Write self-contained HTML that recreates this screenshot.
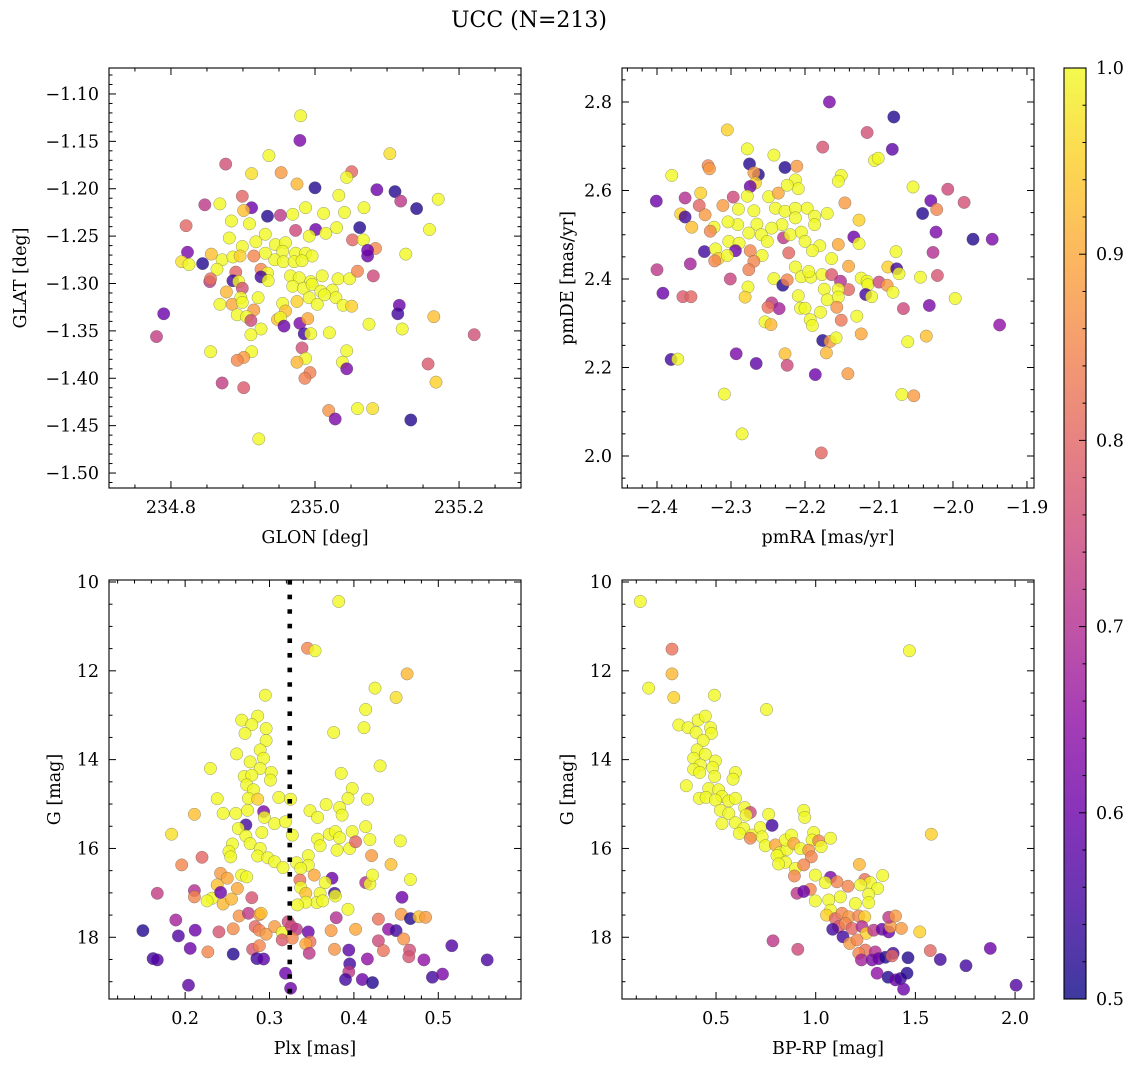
<!DOCTYPE html>
<html><head><meta charset="utf-8"><style>
html,body{margin:0;padding:0;background:#fff;}
svg text{font-family:"DejaVu Serif","Liberation Serif",serif;fill:#000;}
</style></head><body>
<svg id="fig" width="1136" height="1067" viewBox="0 0 1136 1067" xmlns="http://www.w3.org/2000/svg">
<defs>
<linearGradient id="plasma" x1="0" y1="1" x2="0" y2="0">
<stop offset="0" stop-color="#0d0887"/><stop offset="0.1" stop-color="#41049d"/><stop offset="0.2" stop-color="#6a00a8"/><stop offset="0.3" stop-color="#8f0da4"/><stop offset="0.4" stop-color="#b12a90"/><stop offset="0.5" stop-color="#cc4778"/><stop offset="0.6" stop-color="#e16462"/><stop offset="0.7" stop-color="#f2844b"/><stop offset="0.8" stop-color="#fca636"/><stop offset="0.9" stop-color="#fcce25"/><stop offset="1" stop-color="#f0f921"/>
</linearGradient>
</defs>
<text x="529" y="27" font-size="22" text-anchor="middle">UCC (N=213)</text>
</svg>
<script>
// ---- Panel 1: GLON vs GLAT ----
const p1x=[234.980,234.979,235.104,234.936,234.876,235.051,235.044,234.912,234.953,235.000,234.975,235.086,235.111,235.119,235.141,235.171,234.899,234.847,234.868,234.912,234.901,234.934,234.952,234.969,234.987,235.012,235.041,235.068,235.033,235.062,235.001,235.159,234.821,234.884,234.909,234.973,234.992,235.015,235.030,235.052,235.067,235.084,235.073,235.073,235.126,234.823,234.844,234.815,234.825,234.856,234.871,234.886,234.881,234.899,234.918,234.931,234.945,234.959,234.955,234.973,234.987,234.996,234.944,234.956,234.971,234.982,234.931,234.915,234.896,234.864,234.890,234.925,234.934,234.854,234.855,234.886,234.894,234.925,234.935,234.899,234.966,234.978,234.994,235.010,235.032,235.048,235.081,235.059,234.969,234.984,234.996,235.008,235.024,235.029,235.013,234.992,235.003,234.975,234.955,234.959,234.921,234.897,234.877,234.868,234.885,234.899,234.915,234.892,234.905,234.911,234.948,234.952,234.957,234.979,234.990,234.985,234.994,234.925,234.911,235.039,235.051,235.117,235.115,235.165,235.075,235.121,235.020,234.790,234.780,235.221,234.982,234.987,234.975,235.044,235.038,235.044,234.855,234.912,234.901,234.892,234.993,234.986,235.157,235.168,234.871,234.901,235.019,235.028,235.059,235.080,235.133,234.922];
const p1y=[-1.123,-1.149,-1.163,-1.165,-1.174,-1.182,-1.188,-1.184,-1.183,-1.199,-1.195,-1.201,-1.203,-1.213,-1.221,-1.211,-1.208,-1.217,-1.216,-1.220,-1.223,-1.229,-1.228,-1.227,-1.220,-1.226,-1.225,-1.220,-1.207,-1.241,-1.243,-1.243,-1.239,-1.234,-1.237,-1.244,-1.250,-1.247,-1.241,-1.254,-1.254,-1.263,-1.271,-1.265,-1.269,-1.267,-1.279,-1.277,-1.280,-1.269,-1.275,-1.272,-1.252,-1.261,-1.256,-1.248,-1.259,-1.257,-1.266,-1.268,-1.268,-1.271,-1.275,-1.277,-1.277,-1.276,-1.268,-1.271,-1.271,-1.285,-1.288,-1.285,-1.289,-1.298,-1.295,-1.297,-1.298,-1.293,-1.297,-1.305,-1.292,-1.294,-1.298,-1.292,-1.295,-1.295,-1.292,-1.287,-1.303,-1.305,-1.301,-1.308,-1.307,-1.315,-1.312,-1.315,-1.322,-1.319,-1.321,-1.329,-1.315,-1.315,-1.309,-1.322,-1.322,-1.320,-1.328,-1.333,-1.335,-1.339,-1.338,-1.336,-1.345,-1.342,-1.337,-1.353,-1.353,-1.348,-1.354,-1.323,-1.324,-1.323,-1.332,-1.335,-1.343,-1.348,-1.352,-1.332,-1.356,-1.354,-1.368,-1.379,-1.383,-1.371,-1.383,-1.390,-1.372,-1.372,-1.378,-1.381,-1.394,-1.400,-1.385,-1.404,-1.405,-1.410,-1.434,-1.443,-1.432,-1.432,-1.444,-1.464];
const p1c=[1,.62,.97,1,.76,.8,1,.97,.88,.52,.92,.6,.52,.72,.52,1,.8,.72,1,.6,.93,.52,.72,1,1,1,1,1,1,.52,.6,1,.8,1,1,.75,1,1,1,.8,1,.86,.6,.6,1,.62,.52,.97,1,.93,1,1,1,1,1,1,1,1,1,1,1,1,1,1,1,1,1,.85,.95,1,.8,.85,1,.72,.82,.55,1,.55,1,.76,1,1,1,1,1,1,.75,.85,1,1,1,1,1,1,1,1,1,.95,1,.93,1,1,.92,1,.9,1,.88,1,1,.75,.93,1,.6,.62,.9,.55,1,1,1,1,.95,.6,.55,.93,1,1,1,.6,.73,.76,.76,1,.92,1,1,.62,1,1,.88,.85,.84,.84,.78,.95,.73,.78,.87,.62,1,.97,.52,1];
const p1xTicks=["234.8","235.0","235.2"];
const p1yTicks=["−1.10","−1.15","−1.20","−1.25","−1.30","−1.35","−1.40","−1.45","−1.50"];

// ---- Panel 2: pmRA vs pmDE ----
const p2x=[-2.167,-2.080,-2.116,-2.176,-2.082,-2.305,-2.278,-2.242,-2.106,-2.101,-2.380,-2.331,-2.329,-2.275,-2.263,-2.227,-2.211,-2.269,-2.267,-2.274,-2.213,-2.209,-2.151,-2.155,-2.054,-2.007,-1.985,-2.030,-2.022,-2.041,-2.023,-1.973,-1.947,-2.027,-2.021,-2.401,-2.362,-2.341,-2.343,-2.335,-2.368,-2.362,-2.353,-2.311,-2.297,-2.278,-2.290,-2.269,-2.249,-2.236,-2.224,-2.240,-2.227,-2.213,-2.197,-2.187,-2.170,-2.213,-2.231,-2.245,-2.265,-2.291,-2.304,-2.323,-2.328,-2.303,-2.289,-2.276,-2.259,-2.251,-2.229,-2.220,-2.205,-2.200,-2.187,-2.180,-2.190,-2.222,-2.274,-2.258,-2.269,-2.276,-2.294,-2.336,-2.321,-2.317,-2.322,-2.305,-2.355,-2.400,-2.392,-2.365,-2.354,-2.301,-2.277,-2.281,-2.242,-2.230,-2.224,-2.213,-2.205,-2.192,-2.195,-2.177,-2.164,-2.164,-2.155,-2.146,-2.134,-2.127,-2.127,-2.141,-2.152,-2.141,-2.174,-2.155,-2.170,-2.155,-2.124,-2.116,-2.115,-2.100,-2.118,-2.110,-2.089,-2.088,-2.076,-2.073,-2.077,-2.081,-2.044,-1.997,-2.067,-2.032,-1.937,-2.209,-2.206,-2.200,-2.157,-2.151,-2.130,-2.179,-2.193,-2.190,-2.245,-2.235,-2.250,-2.254,-2.246,-2.124,-2.176,-2.166,-2.158,-2.171,-2.061,-2.036,-2.381,-2.372,-2.293,-2.266,-2.227,-2.224,-2.186,-2.142,-2.309,-2.069,-2.053,-2.285,-2.178];
const p2y=[2.800,2.766,2.731,2.698,2.693,2.737,2.694,2.680,2.668,2.673,2.634,2.656,2.649,2.660,2.636,2.652,2.655,2.640,2.617,2.609,2.624,2.604,2.634,2.621,2.608,2.603,2.573,2.577,2.557,2.548,2.506,2.490,2.490,2.460,2.408,2.576,2.583,2.594,2.566,2.545,2.547,2.540,2.517,2.566,2.585,2.587,2.558,2.554,2.586,2.594,2.612,2.560,2.553,2.560,2.560,2.542,2.548,2.538,2.523,2.515,2.524,2.523,2.529,2.517,2.508,2.485,2.481,2.504,2.500,2.485,2.493,2.500,2.506,2.485,2.523,2.475,2.464,2.459,2.464,2.453,2.440,2.421,2.464,2.462,2.468,2.446,2.441,2.453,2.434,2.421,2.368,2.360,2.360,2.400,2.382,2.359,2.401,2.386,2.398,2.427,2.405,2.404,2.417,2.410,2.410,2.446,2.478,2.572,2.495,2.480,2.533,2.429,2.395,2.376,2.377,2.377,2.353,2.359,2.402,2.395,2.387,2.393,2.365,2.360,2.386,2.427,2.423,2.412,2.462,2.370,2.404,2.356,2.333,2.340,2.296,2.362,2.334,2.334,2.336,2.307,2.316,2.325,2.308,2.295,2.346,2.333,2.336,2.303,2.297,2.276,2.261,2.259,2.267,2.233,2.258,2.271,2.218,2.219,2.231,2.209,2.231,2.205,2.184,2.186,2.140,2.139,2.136,2.050,2.007];
const p2c=[.62,.52,.76,.77,.58,.95,1,1,1,1,1,.85,.88,.52,.52,.52,.88,.88,.95,.6,1,1,1,1,1,.75,.76,.6,.85,.52,.62,.52,.62,.7,.77,.6,.7,.95,.8,.88,.95,.55,.93,.88,.75,1,1,1,1,.9,1,1,1,1,1,1,1,1,1,1,1,1,1,1,.85,1,1,1,1,1,.72,1,1,1,1,1,1,.8,.85,1,.85,.84,.6,.55,1,.95,.85,1,.68,.72,.6,.78,.8,.74,1,.95,1,.52,.85,1,1,1,1,1,.78,1,.9,.88,.6,1,.95,.9,.7,.8,1,1,1,1,1,1,1,.75,.55,1,.88,.95,.55,1,1,1,1,1,.75,.62,.65,1,1,1,.87,.83,1,1,1,1,.72,.68,.82,1,.92,.9,.52,.88,1,.92,1,.93,.55,1,.62,.58,.93,.75,.6,.88,1,1,.88,1,.8];
const p2xTicks=["−2.4","−2.3","−2.2","−2.1","−2.0","−1.9"];
const p2yTicks=["2.0","2.2","2.4","2.6","2.8"];

// ---- Panel 3: Plx vs G ----
const p3x=[.382,.345,.354,.463,.425,.450,.295,.414,.412,.376,.267,.286,.279,.271,.296,.296,.289,.293,.261,.277,.289,.302,.301,.431,.230,.385,.270,.279,.273,.281,.275,.286,.238,.311,.325,.398,.393,.416,.211,.245,.260,.274,.293,.294,.306,.319,.348,.357,.367,.383,.386,.272,.263,.291,.327,.272,.256,.277,.289,.252,.254,.286,.298,.306,.316,.184,.357,.360,.371,.378,.383,.380,.395,.398,.402,.414,.419,.455,.421,.444,.220,.196,.332,.346,.346,.337,.353,.374,.336,.242,.250,.267,.273,.238,.262,.232,.226,.245,.255,.279,.337,.343,.360,.366,.377,.378,.356,.363,.343,.333,.393,.414,.419,.422,.467,.457,.167,.211,.211,.242,.189,.150,.192,.212,.206,.240,.257,.264,.275,.288,.290,.283,.288,.296,.306,.315,.322,.326,.332,.315,.327,.346,.348,.343,.280,.288,.285,.293,.227,.257,.162,.167,.204,.319,.325,.347,.373,.379,.377,.394,.402,.395,.394,.390,.410,.422,.416,.429,.435,.429,.441,.450,.459,.466,.465,.456,.467,.477,.485,.483,.493,.505,.516,.558];
const p3y=[10.44,11.49,11.55,12.07,12.39,12.60,12.55,12.87,13.28,13.39,13.11,13.02,13.21,13.41,13.30,13.57,13.78,13.97,13.87,14.05,14.20,14.29,14.46,14.14,14.20,14.31,14.38,14.35,14.57,14.68,14.87,14.89,14.88,14.85,14.89,14.65,14.87,14.89,15.23,15.21,15.21,15.14,15.17,15.30,15.44,15.40,15.15,15.30,15.01,15.08,15.25,15.47,15.55,15.64,15.70,15.72,15.90,15.89,16.00,16.07,16.19,16.17,16.21,16.30,16.43,15.68,15.79,15.94,15.68,15.62,15.76,16.04,16.00,15.62,15.85,15.51,15.80,15.83,16.16,16.36,16.20,16.37,16.32,16.16,16.38,16.45,16.60,16.67,16.71,16.56,16.67,16.60,16.64,16.82,16.90,17.12,17.18,17.25,17.14,17.11,16.88,17.01,17.01,16.77,17.01,17.07,17.22,17.18,17.21,17.27,17.37,16.77,16.80,16.60,16.70,17.10,17.01,16.95,17.09,16.99,17.61,17.85,17.97,17.84,18.25,17.88,17.81,17.52,17.46,17.49,17.46,17.76,17.84,17.93,17.76,17.89,17.65,17.76,17.82,18.06,18.02,17.88,18.10,18.15,18.27,18.19,18.48,18.49,18.33,18.38,18.48,18.51,19.08,18.81,19.15,18.36,17.85,17.56,18.27,18.29,17.82,18.60,18.78,18.95,18.95,19.02,18.49,18.08,18.30,17.59,17.82,17.85,18.04,18.29,18.44,17.48,17.58,17.54,17.55,18.51,18.90,18.83,18.19,18.51];
const p3c=[1,.85,1,.92,1,.97,1,1,1,1,1,1,1,1,1,1,1,1,1,1,1,1,1,1,1,1,1,1,1,1,1,.95,1,1,1,1,1,1,.93,1,1,1,.62,1,1,1,1,1,1,1,1,.55,1,1,1,1,1,1,1,1,1,1,1,1,1,.97,1,1,1,1,1,1,1,1,.8,1,1,1,.88,.93,.8,.85,1,1,1,1,.9,.6,.82,.88,.9,1,1,.93,.9,1,1,.92,.92,.77,1,.93,1,1,.55,1,1,1,1,1,1,.7,1,1,1,.6,.73,.7,.85,.6,.68,.52,.57,.6,.6,.77,.86,.87,.72,.88,.93,.8,.85,.88,.88,1,.75,.75,.72,.78,.85,.6,.82,.9,.77,.85,.55,.58,.85,.52,.55,.57,.58,.6,.6,.72,.88,.7,.87,.58,.9,.55,.72,.55,.6,.52,.65,.75,.82,.82,.65,.55,.87,.76,.77,.88,.52,.93,.88,.65,.55,.62,.57,.56];
const p3xTicks=["0.2","0.3","0.4","0.5"];
const gTicks=["10","12","14","16","18"];
const plxLine=[0.324];

// ---- Panel 4: BP-RP vs G ----
const p4x=[.120,.279,.279,1.470,.162,.288,.492,.753,.313,.360,.410,.446,.472,.477,.400,.435,.405,.446,.497,.388,.421,.388,.418,.483,.493,.351,.597,.585,.463,.513,.530,.416,.450,.497,.564,.597,.522,.564,.644,.672,.651,.530,.597,.639,.617,.681,.722,.764,.781,.731,.672,.747,.798,.819,.856,.848,.878,.890,.940,.945,.990,.982,1.015,1.027,1.074,.923,.965,.978,.806,.848,.814,.898,.940,.893,.998,1.074,1.048,1.107,1.219,1.336,1.246,1.274,1.224,1.311,1.266,1.266,1.162,1.124,1.065,.998,.973,.906,.940,1.199,1.074,1.054,1.099,1.132,1.166,1.216,1.246,1.115,1.149,1.085,1.137,1.182,1.232,1.254,1.291,1.333,1.366,1.375,1.430,1.366,1.400,1.522,1.171,1.207,1.249,1.299,1.216,1.229,1.283,1.316,1.349,1.388,1.383,1.463,1.308,1.363,1.400,1.425,1.458,1.441,.786,.910,1.575,1.625,1.754,1.876,2.005,1.580];
const p4y=[10.44,11.51,12.07,11.55,12.39,12.60,12.55,12.87,13.22,13.28,13.11,13.02,13.28,13.41,13.39,13.57,13.78,13.88,14.03,13.97,14.12,14.22,14.29,14.18,14.38,14.59,14.29,14.44,14.65,14.68,14.83,14.87,14.85,14.91,14.93,14.87,15.14,15.21,15.08,15.19,15.25,15.44,15.42,15.55,15.66,15.70,15.53,15.23,15.48,15.74,15.77,15.94,15.92,16.10,16.02,15.81,15.70,15.89,15.14,15.30,15.64,15.81,15.83,15.96,15.77,16.00,16.04,16.19,16.16,16.31,16.35,16.45,16.37,16.62,16.60,16.65,16.77,16.75,16.36,16.61,16.70,16.77,16.82,16.90,17.03,17.22,16.85,17.09,17.16,17.18,16.92,17.01,16.97,17.24,17.39,17.50,17.58,17.46,17.54,17.52,17.54,17.76,17.69,17.82,17.99,17.80,17.76,17.91,17.84,17.82,17.88,17.76,17.80,17.55,17.52,17.88,18.14,18.06,18.29,18.33,18.36,18.51,18.51,18.48,18.45,18.36,18.42,18.46,18.81,18.90,18.96,18.93,18.81,19.17,18.08,18.27,18.30,18.50,18.64,18.25,19.08,15.68];
const p4c=[1,.82,.92,1,1,.95,1,1,1,1,1,1,1,1,1,1,1,1,1,1,1,1,1,1,1,1,1,1,1,1,1,1,1,1,1,1,1,1,1,.75,1,1,1,1,1,1,1,1,.55,1,.85,1,.9,1,1,1,1,.9,1,1,1,1,.85,1,1,1,.88,.85,1,1,1,1,.85,.85,1,.62,1,.85,.92,1,.82,1,1,1,1,1,.85,1,1,1,.85,.72,.6,1,1,.95,.8,.85,.88,.85,.95,.78,.85,.55,.55,.8,.7,.95,.72,.6,.6,.88,.88,.72,.88,.95,.88,.85,.82,.7,.85,.68,.62,.6,.52,.55,.8,.52,.65,.52,.6,.55,.52,.6,.72,.75,.8,.55,.55,.6,.57,.95];
const p4xTicks=["0.5","1.0","1.5","2.0"];
const cbTicks=["0.5","0.6","0.7","0.8","0.9","1.0"];

const NS="http://www.w3.org/2000/svg";
const svg=document.getElementById('fig');
const FS=17.5;
function mk(tag,attrs,parent){const e=document.createElementNS(NS,tag);for(const k in attrs)e.setAttribute(k,attrs[k]);(parent||svg).appendChild(e);return e;}
const stops=[[13,8,135],[65,4,157],[106,0,168],[143,13,164],[177,42,144],[204,71,120],[225,100,98],[242,132,75],[252,166,54],[252,206,37],[240,249,33]];
function plasma(v){let t=(v-0.5)/0.5;t=Math.max(0,Math.min(1,t))*10;const i=Math.min(9,Math.floor(t)),f=t-i;const a=stops[i],b=stops[i+1];return 'rgb('+[0,1,2].map(j=>Math.round(a[j]+(b[j]-a[j])*f)).join(',')+')';}

function panel(o){
  const g=mk('g',{});
  
  
  const L=o.L,T=o.T,W=o.W,H=o.H;
  const sx=v=>L+(v-o.x0)/(o.x1-o.x0)*W;
  const sy=v=>o.inv? T+(v-o.y0)/(o.y1-o.y0)*H : T+H-(v-o.y0)/(o.y1-o.y0)*H;
  const pg=mk('g',{},g);
  
  
  for(let i=0;i<o.xs.length;i++){
    const c=mk('circle',{cx:sx(o.xs[i]).toFixed(1),cy:sy(o.ys[i]).toFixed(1),r:6.2,fill:plasma(o.cs[i]),'fill-opacity':0.8,stroke:'#555','stroke-opacity':0.6,'stroke-width':0.5},pg);
    
    
  }
  if(o.vline){o.vline.forEach(v=>{const l=mk('line',{x1:sx(v),x2:sx(v),y1:T,y2:T+H,stroke:'#000','stroke-width':4.6,'stroke-dasharray':'4.6 10'},g);
    
    });}
  const fr=mk('rect',{x:L,y:T,width:W,height:H,fill:'none',stroke:'#000','stroke-width':1.1},g);
  
  
  const tg=mk('g',{stroke:'#000','stroke-width':1},g);
  const eps=1e-9;
  for(let v=Math.ceil(o.x0/o.xmi-eps)*o.xmi;v<=o.x1+eps;v+=o.xmi){const X=sx(v);const maj=Math.abs(v/o.xma-Math.round(v/o.xma))<1e-6;const len=maj?7:3.5;
    mk('line',{x1:X,x2:X,y1:T+H,y2:T+H-len},tg);mk('line',{x1:X,x2:X,y1:T,y2:T+len},tg);}
  for(let v=Math.ceil(o.y0/o.ymi-eps)*o.ymi;v<=o.y1+eps;v+=o.ymi){const Y=sy(v);const maj=Math.abs(v/o.yma-Math.round(v/o.yma))<1e-6;const len=maj?7:3.5;
    mk('line',{y1:Y,y2:Y,x1:L,x2:L+len},tg);mk('line',{y1:Y,y2:Y,x1:L+W,x2:L+W-len},tg);}
  o.xt.forEach(s=>{const v=parseFloat(s.replace('−','-'));const t=mk('text',{x:sx(v),y:T+H+25,'font-size':FS,'text-anchor':'middle'},g);t.textContent=s;
    
    });
  o.yt.forEach(s=>{const v=parseFloat(s.replace('−','-'));const t=mk('text',{x:L-10,y:sy(v)+6,'font-size':FS,'text-anchor':'end'},g);t.textContent=s;
    
    });
  const xl=mk('text',{x:L+W/2,y:T+H+55,'font-size':FS,'text-anchor':'middle'},g);xl.textContent=o.xlab;
  
  
  const yl=mk('text',{x:0,y:0,'font-size':FS,'text-anchor':'middle',transform:'translate('+o.ylx+','+(T+H/2)+') rotate(-90)'},g);yl.textContent=o.ylab;
  
  
}
panel({name:'glon-glat-panel',L:109,T:68,W:412,H:420,x0:234.714,x1:235.286,y0:-1.5158,y1:-1.0726,xma:0.2,xmi:0.05,yma:0.05,ymi:0.01,xs:p1x,ys:p1y,cs:p1c,xt:p1xTicks,yt:p1yTicks,xlab:'GLON [deg]',ylab:'GLAT [deg]',ylx:26});
panel({name:'pm-panel',L:622,T:68,W:412,H:420,x0:-2.4473,x1:-1.8905,y0:1.9277,y1:2.8768,xma:0.1,xmi:0.02,yma:0.2,ymi:0.05,xs:p2x,ys:p2y,cs:p2c,xt:p2xTicks,yt:p2yTicks,xlab:'pmRA [mas/yr]',ylab:'pmDE [mas/yr]',ylx:573});
panel({name:'plx-g-panel',L:109,T:580,W:412,H:419,x0:0.1098,x1:0.598,y0:9.955,y1:19.39,inv:true,xma:0.1,xmi:0.02,yma:2,ymi:0.5,xs:p3x,ys:p3y,cs:p3c,xt:p3xTicks,yt:gTicks,xlab:'Plx [mas]',ylab:'G [mag]',ylx:60,vline:plxLine});
panel({name:'cmd-panel',L:622,T:580,W:412,H:419,x0:0.0283,x1:2.095,y0:9.955,y1:19.39,inv:true,xma:0.5,xmi:0.1,yma:2,ymi:0.5,xs:p4x,ys:p4y,cs:p4c,xt:p4xTicks,yt:gTicks,xlab:'BP-RP [mag]',ylab:'G [mag]',ylx:573});

const cb=mk('g',{});


const CT=68,CB=999,CL=1064,CW=22;
mk('rect',{x:CL,y:CT,width:CW,height:CB-CT,fill:'url(#plasma)','fill-opacity':0.8},cb);
mk('rect',{x:CL,y:CT,width:CW,height:CB-CT,fill:'none',stroke:'#000','stroke-width':1.1},cb);
const cy=v=>CB-(v-0.5)/0.5*(CB-CT);
for(let k=0;k<=25;k++){const v=0.5+k*0.02;const maj=k%5===0;mk('line',{x1:CL+CW,x2:CL+CW-(maj?7:3.5),y1:cy(v),y2:cy(v),stroke:'#000','stroke-width':1},cb);}
cbTicks.forEach(s=>{const t=mk('text',{x:CL+CW+10,y:cy(parseFloat(s))+6,'font-size':FS},cb);t.textContent=s;
  
  });
</script>
</body></html>
